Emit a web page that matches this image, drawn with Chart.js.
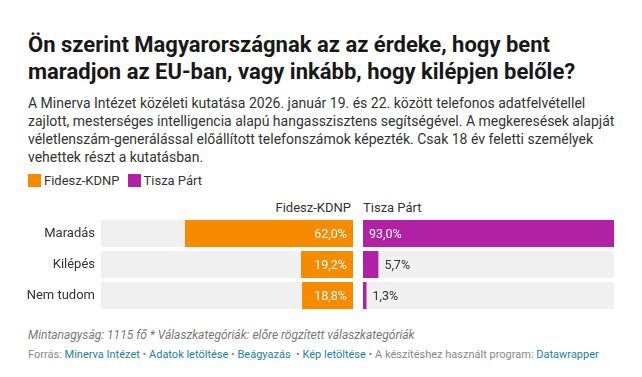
<!DOCTYPE html>
<html lang="hu">
<head>
<meta charset="utf-8">
<script src="https://cdn.jsdelivr.net/npm/chart.js@4"></script>
<style>
  body { margin: 0; width: 642px; height: 377px; background: #fff; font-family: Roboto, sans-serif; color: #333; position: relative; overflow: hidden; }
  .abs { position: absolute; }
  #title { left: 28px; top: 31px; font-size: 22px; font-weight: 700; line-height: 27px; color: #181818; }
  #desc { left: 28px; top: 94px; font-size: 14px; line-height: 18px; color: #333; }
  #legend { left: 28px; top: 173px; font-size: 13px; color: #333; display: flex; align-items: center; }
  #legend span.sw { display: inline-block; width: 13px; height: 13px; margin-right: 3px; }
  #legend span.lb { margin-right: 8px; }
  .head { top: 200px; font-size: 13px; color: #333; }
  #note { left: 28px; top: 328px; font-size: 12px; font-style: italic; color: #777; }
  #src { left: 28px; top: 348px; font-size: 11px; color: #888; }
  #src a { color: #1d81a2; text-decoration: none; }
</style>
</head>
<body>
<div id="title" class="abs">Ön szerint Magyarországnak az az érdeke, hogy bent<br>maradjon az EU-ban, vagy inkább, hogy kilépjen belőle?</div>
<div id="desc" class="abs">A Minerva Intézet közéleti kutatása 2026. január 19. és 22. között telefonos adatfelvétellel<br>zajlott, mesterséges intelligencia alapú hangasszisztens segítségével. A megkeresések alapját<br>véletlenszám-generálással előállított telefonszámok képezték. Csak 18 év feletti személyek<br>vehettek részt a kutatásban.</div>
<div id="legend" class="abs"></div>
<div class="abs head" style="right:291px">Fidesz-KDNP</div>
<div class="abs head" style="left:363px">Tisza Párt</div>
<canvas id="chartFidesz" class="abs" width="353" height="93" style="left:0;top:218px"></canvas>
<canvas id="chartTisza" class="abs" width="251" height="93" style="left:363px;top:218px"></canvas>
<div id="note" class="abs">Mintanagyság: 1115 fő * Válaszkategóriák: előre rögzített válaszkategóriák</div>
<div id="src" class="abs">Forrás: <a>Minerva Intézet</a> • <a>Adatok letöltése</a> • <a>Beágyazás</a> &nbsp;• <a>Kép letöltése</a> • A készítéshez használt program: <a>Datawrapper</a></div>
<script>
// Adatok
const categories = ['Maradás', 'Kilépés', 'Nem tudom'];
const fideszValues = [62.0, 19.2, 18.8];
const tiszaValues = [93.0, 5.7, 1.3];
const seriesNames = ['Fidesz-KDNP', 'Tisza Párt'];
const scaleMax = 93;

const colors = {
    fidesz: '#f68b00',
    tisza: '#b022a3',
    track: '#f0f0f0'
};

// Jelmagyarázat
const legend = document.getElementById('legend');
[[seriesNames[0], colors.fidesz], [seriesNames[1], colors.tisza]].forEach(([name, color]) => {
    legend.insertAdjacentHTML('beforeend',
        `<span class="sw" style="background:${color}"></span><span class="lb">${name}</span>`);
});

const fmt = v => v.toFixed(1).replace('.', ',') + '%';

// Értékcímkék a sávokon
const valueLabels = {
    id: 'valueLabels',
    afterDatasetsDraw(chart, args, opts) {
        const ctx = chart.ctx;
        const meta = chart.getDatasetMeta(0);
        const values = chart.data.datasets[0].data;
        ctx.save();
        ctx.font = '12.5px Roboto';
        ctx.textBaseline = 'middle';
        meta.data.forEach((bar, i) => {
            const txt = fmt(values[i]);
            const w = ctx.measureText(txt).width;
            const len = Math.abs(bar.x - bar.base);
            const inside = len > w + 14;
            ctx.fillStyle = inside ? '#fff' : '#333';
            if (opts.reverse) {
                ctx.textAlign = 'right';
                ctx.fillText(txt, (inside ? bar.base : bar.x) - 6, bar.y + 1);
            } else {
                ctx.textAlign = 'left';
                ctx.fillText(txt, (inside ? bar.base : bar.x) + 6, bar.y + 1);
            }
        });
        ctx.restore();
    }
};

function makeChart(id, values, color, reverse, showLabels) {
    const yAxis = {
        display: showLabels,
        grid: { display: false, drawTicks: false },
        border: { display: false },
        ticks: { color: '#333', font: { family: 'Roboto', size: 13 }, padding: 6 }
    };
    if (showLabels) {
        // fix label column width, no extra padding above/below
        yAxis.afterFit = scale => {
            scale.width = 101;
            scale.paddingTop = 0;
            scale.paddingBottom = 0;
        };
    }
    return new Chart(document.getElementById(id), {
        type: 'bar',
        data: {
            labels: categories,
            datasets: [
                { data: values, backgroundColor: color, order: 1, grouped: false },
                { data: categories.map(() => scaleMax), backgroundColor: colors.track, order: 2, grouped: false }
            ]
        },
        options: {
            indexAxis: 'y',
            responsive: false,
            animation: false,
            devicePixelRatio: 1,
            layout: { padding: 0 },
            barPercentage: 1,
            categoryPercentage: 0.87,
            plugins: {
                legend: { display: false },
                tooltip: { enabled: false },
                valueLabels: { reverse: reverse }
            },
            scales: {
                x: { min: 0, max: scaleMax, reverse: reverse, display: false },
                y: yAxis
            }
        },
        plugins: [valueLabels]
    });
}

makeChart('chartFidesz', fideszValues, colors.fidesz, true, true);
makeChart('chartTisza', tiszaValues, colors.tisza, false, false);
</script>
</body>
</html>
